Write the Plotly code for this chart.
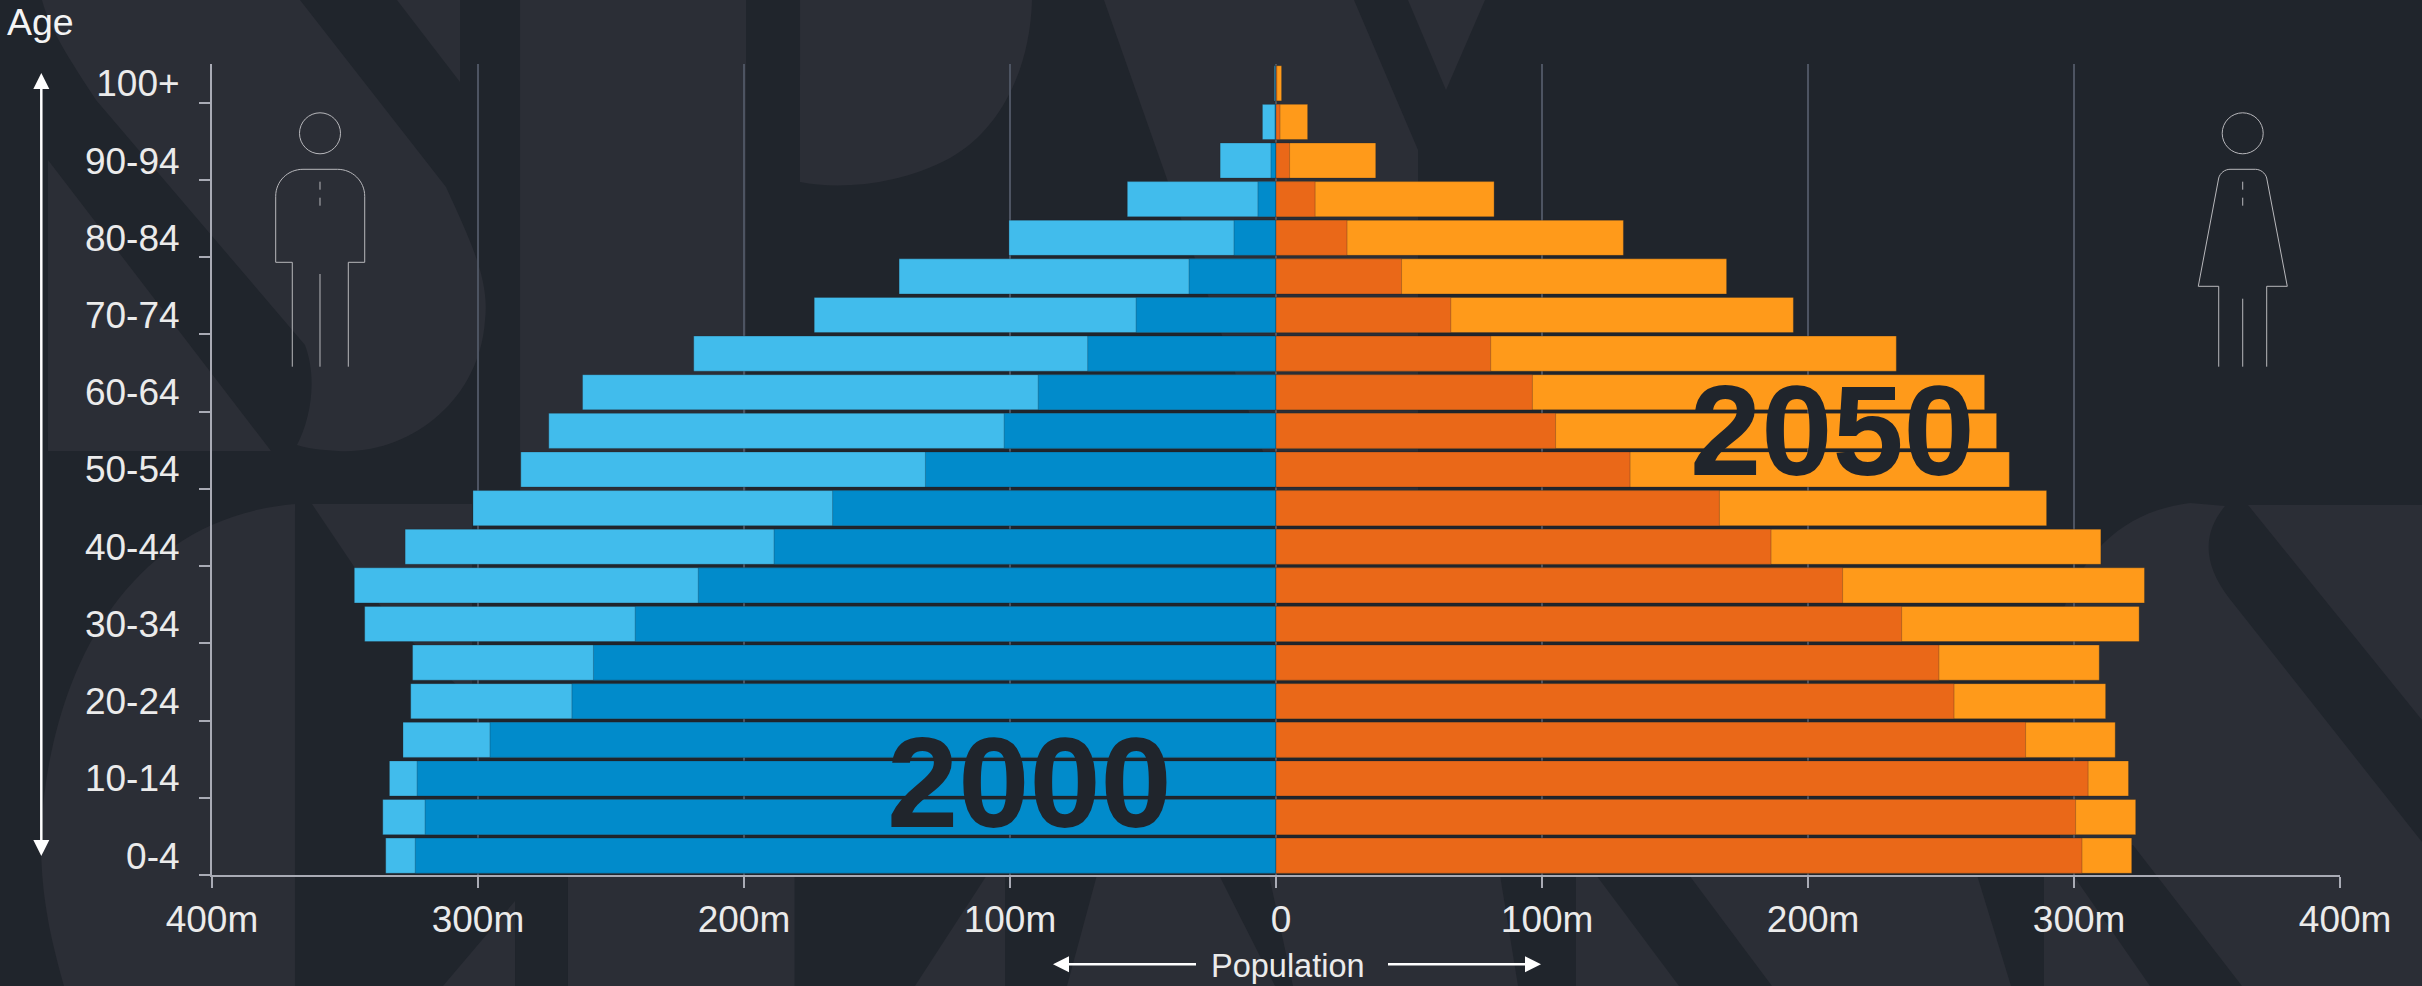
import plotly.graph_objects as go

# Population by five-year age band, in millions, youngest first
ages = ["0-4", "5-9", "10-14", "15-19", "20-24", "25-29", "30-34", "35-39", "40-44", "45-49",
        "50-54", "55-59", "60-64", "65-69", "70-74", "75-79", "80-84", "85-89", "90-94", "95-99", "100+"]
male_2050 = [334.7, 335.8, 333.3, 328.2, 325.3, 324.6, 342.6, 346.5, 327.4, 301.9, 283.9,
             273.4, 260.7, 218.9, 173.6, 141.7, 100.4, 55.9, 21.0, 5.1, 0.6]
male_2000 = [323.6, 319.9, 322.9, 295.5, 264.7, 256.6, 240.9, 217.2, 188.7, 166.7, 131.8,
             102.2, 89.4, 70.8, 52.6, 32.7, 15.8, 6.8, 1.9, 0.4, 0.1]
female_2050 = [321.7, 323.2, 320.5, 315.5, 311.9, 309.5, 324.5, 326.5, 310.1, 289.7, 275.7,
               270.9, 266.4, 233.2, 194.5, 169.4, 130.6, 82.0, 37.5, 11.9, 2.1]
female_2000 = [303.0, 300.6, 305.3, 281.8, 254.9, 249.2, 235.2, 213.0, 186.1, 166.7, 133.1,
               105.1, 96.4, 80.7, 65.7, 47.2, 26.7, 14.7, 5.1, 1.5, 0.3]
population_ticks = [-400, -300, -200, -100, 0, 100, 200, 300, 400]
population_labels = ["400m", "300m", "200m", "100m", "\u00a00", "\u00a0100m", "\u00a0200m", "\u00a0300m", "\u00a0400m"]

W, H = 2422, 986
L, T, R, B = 212, 64, 2340, 875
BG, PANEL = "#20252c", "#2b2e36"
FONT = "Liberation Sans"


def fx(x):
    return (x - L) / (R - L)


def fy(y):
    return (B - y) / (B - T)


def path(*parts):
    """Build an SVG path in paper fractions from (command, x1, y1, x2, y2, ...) pixel tuples."""
    out = []
    for part in parts:
        cmd, nums = part[0], part[1:]
        coords = []
        for i in range(0, len(nums), 2):
            coords.append(f"{fx(nums[i]):.5f},{fy(nums[i + 1]):.5f}")
        out.append(cmd + " " + " ".join(coords))
    return " ".join(out)


def poly(points):
    parts = [("M", *points[0])] + [("L", *p) for p in points[1:]]
    return path(*parts) + " Z"


shapes = []


def backdrop(d):
    shapes.append(dict(type="path", xref="paper", yref="paper", path=d,
                       fillcolor=PANEL, line=dict(width=0), layer="below"))


# Oversized letterforms behind the chart
backdrop(path(("M", 42, 0), ("L", 300, 0), ("L", 446, 187), ("C", 470, 240, 490, 280, 485, 320),
              ("C", 480, 400, 410, 455, 338, 451), ("C", 320, 450, 305, 448, 297, 445),
              ("C", 310, 420, 318, 380, 305, 345), ("L", 96, 100), ("C", 70, 60, 50, 30, 42, 0)) + " Z")
backdrop(poly([(397, 0), (460, 0), (460, 82)]))
backdrop(poly([(48, 160), (271, 451), (48, 451)]))
backdrop(poly([(520, 0), (746, 0), (746, 500), (520, 500)]))
backdrop(path(("M", 800, 0), ("L", 1032, 0), ("C", 1030, 70, 1000, 130, 950, 158),
              ("C", 900, 185, 840, 190, 800, 182)) + " Z")
backdrop(path(("M", 1104, 0), ("L", 1354, 0), ("L", 1418, 150), ("L", 1418, 500), ("L", 1280, 500)) + " Z")
backdrop(poly([(1408, 0), (1485, 0), (1446, 90)]))
backdrop(path(("M", 295, 504), ("L", 295, 986), ("L", 64, 986), ("C", 48, 930, 41, 890, 41, 840),
              ("C", 45, 700, 110, 520, 295, 504)) + " Z")
backdrop(poly([(312, 504), (472, 504), (472, 700), (390, 620)]))
backdrop(poly([(443, 986), (515, 901), (515, 986)]))

# Strips of the lower letterforms that show beneath the axis
backdrop(poly([(568, 875), (794.5, 875), (794.5, 986), (568, 986)]))
backdrop(poly([(987, 875), (1005, 875), (1005, 986), (915, 986)]))
backdrop(poly([(1097, 875), (1219, 875), (1275, 986), (1067, 986)]))
backdrop(poly([(1269, 875), (1500, 875), (1518, 986), (1293, 986)]))
backdrop(poly([(1576, 875), (1596, 875), (1679, 986), (1576, 986)]))
backdrop(poly([(1689, 875), (1977, 875), (2011, 986), (1772, 986)]))
backdrop(poly([(2044, 875), (2073, 875), (2150, 986), (2044, 986)]))
backdrop(path(("M", 2060, 620), ("C", 2085, 540, 2135, 510, 2190, 503), ("L", 2225, 506),
              ("C", 2205, 530, 2200, 560, 2229, 598), ("L", 2422, 842), ("L", 2422, 986),
              ("L", 2242, 986), ("L", 2133, 845), ("L", 2060, 845)) + " Z")
backdrop(poly([(2248, 505), (2422, 505), (2422, 720)]))

ICON = dict(color="#b8b8bc", width=1)


def icon(d):
    shapes.append(dict(type="path", xref="paper", yref="paper", path=d,
                       line=ICON, fillcolor="rgba(0,0,0,0)", layer="above"))


def head(cx):
    shapes.append(dict(type="circle", xref="paper", yref="paper", x0=fx(cx - 20.5), x1=fx(cx + 20.5),
                       y0=fy(153.8), y1=fy(112.8), line=ICON, layer="above"))


def inner_lines(cx, leg_top):
    icon(path(("M", cx, 181.7), ("L", cx, 189.7)))
    icon(path(("M", cx, 197.7), ("L", cx, 205.7)))
    icon(path(("M", cx, leg_top), ("L", cx, 366.7)))


# Outline figure on the male side
head(320)
icon(path(("M", 292.3, 366.7), ("L", 292.3, 262.3), ("L", 275.7, 262.3), ("L", 275.7, 196.3),
          ("C", 275.7, 181, 288, 169.3, 303, 169.3), ("L", 337.4, 169.3),
          ("C", 352.4, 169.3, 364.7, 181, 364.7, 196.3), ("L", 364.7, 262.3), ("L", 348.3, 262.3), ("L", 348.3, 366.7)))
inner_lines(320, 274)

# Outline figure on the female side
head(2242.7)
icon(path(("M", 2218.7, 366.7), ("L", 2218.7, 286.3), ("L", 2198.3, 286.3), ("L", 2218.7, 178),
          ("C", 2220, 173, 2225, 169.3, 2230, 169.3), ("L", 2255.4, 169.3),
          ("C", 2260.4, 169.3, 2265.4, 173, 2266.7, 178), ("L", 2287.3, 286.3),
          ("L", 2266.7, 286.3), ("L", 2266.7, 366.7)))
inner_lines(2242.7, 298.7)


def arrow_shaft(x0, y0, x1, y1):
    shapes.append(dict(type="line", xref="paper", yref="paper", x0=fx(x0), y0=fy(y0), x1=fx(x1), y1=fy(y1),
                       line=dict(color="#ffffff", width=2.5), layer="above"))


def arrow_head(points):
    shapes.append(dict(type="path", xref="paper", yref="paper", path=poly(points),
                       fillcolor="#ffffff", line=dict(width=0), layer="above"))


# Age direction arrow
arrow_shaft(41.3, 86, 41.3, 843)
arrow_head([(41.3, 73), (33.3, 89), (49.3, 89)])
arrow_head([(41.3, 856), (33.3, 840), (49.3, 840)])

# Population direction arrows
arrow_shaft(1066, 964.3, 1196, 964.3)
arrow_head([(1053, 964.3), (1069, 956.3), (1069, 972.3)])
arrow_shaft(1388, 964.3, 1528, 964.3)
arrow_head([(1541, 964.3), (1525, 956.3), (1525, 972.3)])

EDGE = dict(color="rgba(32,37,44,0.28)", width=1)
BAR = dict(orientation="h", hoverinfo="skip", showlegend=False)
fig = go.Figure()
fig.add_bar(y=ages, x=[-v for v in male_2050], marker=dict(color="#41bcec", line=EDGE), **BAR)
fig.add_bar(y=ages, x=[-v for v in male_2000], marker=dict(color="#018bcb", line=EDGE), **BAR)
fig.add_bar(y=ages, x=female_2050, marker=dict(color="#ff9a1a", line=EDGE), **BAR)
fig.add_bar(y=ages, x=female_2000, marker=dict(color="#ea6818", line=EDGE), **BAR)


def note(text, x, y, size, color, bold=False, anchor="center"):
    return dict(text=f"<b>{text}</b>" if bold else text, xref="paper", yref="paper", x=fx(x), y=fy(y),
                xanchor=anchor, yanchor="middle", showarrow=False,
                font=dict(family=FONT, size=size, color=color))


fig.update_layout(
    width=W, height=H, autosize=False,
    margin=dict(l=L, r=W - R, t=T, b=H - B, pad=0),
    paper_bgcolor=BG, plot_bgcolor="rgba(0,0,0,0)",
    barmode="overlay", bargap=0.09,
    font=dict(family=FONT, color="#ebebeb"),
    shapes=shapes,
    annotations=[
        note("Age", 5, 22, 37.5, "#f4f4f4", anchor="left"),
        note("Population", 1288, 966, 32.5, "#ebebeb"),
        note("2000", 1029, 782, 128, BG, bold=True),
        note("2050", 1832, 430, 128, BG, bold=True),
    ],
    xaxis=dict(range=[-400, 400], tickmode="array", tickvals=population_ticks, ticktext=population_labels,
               showgrid=True, gridcolor="#4d5462", gridwidth=2, zeroline=False,
               showline=True, linecolor="#a9abb5", linewidth=2,
               ticks="outside", ticklen=11, tickwidth=2, tickcolor="#a9abb5",
               tickfont=dict(family=FONT, size=37, color="#ebebeb"), fixedrange=True),
    yaxis=dict(type="category", categoryorder="array", categoryarray=ages, range=[-0.5, 20.5],
               tickson="boundaries", dtick=2, tick0=0,
               showgrid=False, zeroline=False, showline=True, linecolor="#a9abb5", linewidth=2,
               ticks="outside", ticklen=11, tickwidth=2, tickcolor="#a9abb5",
               ticklabelstandoff=23,
               tickfont=dict(family=FONT, size=37, color="#ebebeb"), fixedrange=True),
)

fig.write_html("out.html")
